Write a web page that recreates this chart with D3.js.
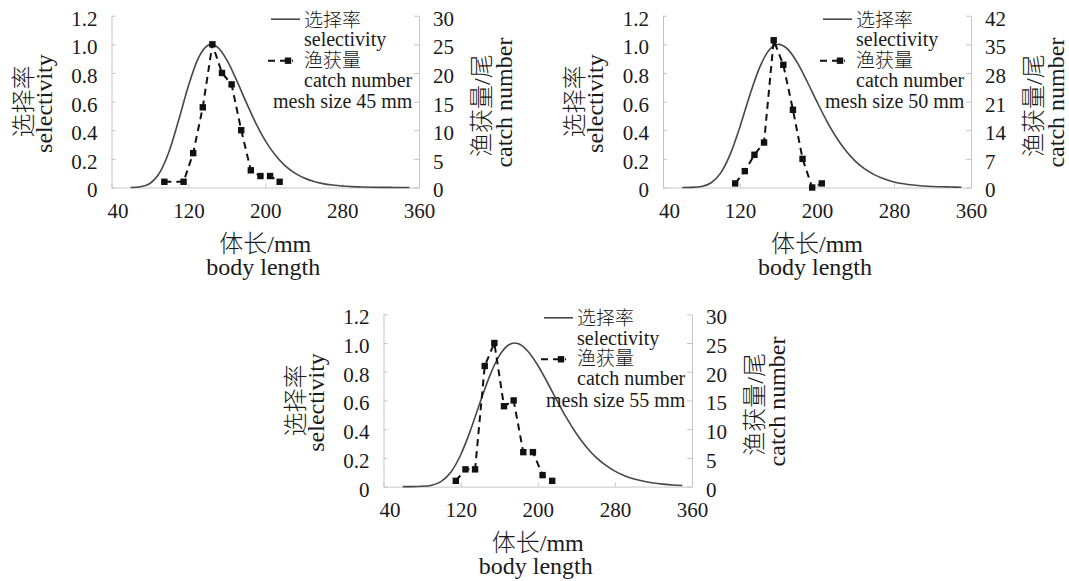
<!DOCTYPE html>
<html>
<head>
<meta charset="utf-8">
<script src="https://cdn.jsdelivr.net/npm/d3@7"></script>
<style>
  body { margin: 0; background: #fff; }
  svg text { font-family: "Liberation Serif", "Noto Sans CJK SC", serif; fill: #1a1a1a; }
</style>
</head>
<body>
<svg width="1069" height="581"></svg>
<script>
'use strict';

// selectivity curves (body length in mm -> selectivity)
var selLen45 = [60, 70, 80, 90, 100, 110, 120, 130, 140, 144, 150, 160, 170, 180, 190, 200, 210, 220, 230, 240, 250, 260, 270, 280, 290, 300, 310, 320, 330, 340, 350];
var sel45 = [0, 0.005, 0.028, 0.102, 0.253, 0.473, 0.709, 0.898, 0.992, 1.0, 0.983, 0.892, 0.752, 0.598, 0.452, 0.328, 0.230, 0.156, 0.104, 0.068, 0.043, 0.027, 0.017, 0.010, 0.006, 0.004, 0.002, 0.001, 0.001, 0, 0];

var selLen50 = [60, 70, 80, 90, 100, 110, 120, 130, 140, 150, 160, 170, 180, 190, 200, 210, 220, 230, 240, 250, 260, 270, 280, 290, 300, 310, 320, 330, 340, 350];
var sel50 = [0, 0.001, 0.007, 0.033, 0.102, 0.235, 0.425, 0.641, 0.832, 0.958, 1.0, 0.963, 0.867, 0.737, 0.598, 0.466, 0.351, 0.257, 0.183, 0.128, 0.088, 0.059, 0.039, 0.026, 0.017, 0.011, 0.007, 0.005, 0.003, 0.002];

var selLen55 = [60, 70, 80, 90, 100, 110, 120, 130, 140, 150, 160, 170, 176, 180, 190, 200, 210, 220, 230, 240, 250, 260, 270, 280, 290, 300, 310, 320, 330, 340, 350];
var sel55 = [0, 0, 0.002, 0.010, 0.037, 0.102, 0.220, 0.388, 0.582, 0.768, 0.910, 0.988, 1.0, 0.995, 0.941, 0.845, 0.725, 0.598, 0.477, 0.370, 0.280, 0.207, 0.151, 0.108, 0.076, 0.053, 0.037, 0.025, 0.017, 0.011, 0.008];

// catch numbers per length class
var catchLen45 = [95, 115, 125, 135, 145, 155, 165, 175, 185, 195, 205, 215];
var catch45 = [1, 1, 6, 14, 25, 20, 18, 10, 3, 2, 2, 1];
var catchLen50 = [115, 125, 135, 145, 155, 165, 175, 185, 195, 205];
var catch50 = [1, 4, 8, 11, 36, 30, 19, 7, 0, 1];
var catchLen55 = [115, 125, 135, 145, 155, 165, 175, 185, 195, 205, 215];
var catch55 = [1, 3, 3, 21, 25, 14, 15, 6, 6, 2, 1];

// tick labels
var xTicks = [40, 120, 200, 280, 360];
var selTicks = [0, 0.2, 0.4, 0.6, 0.8, 1.0, 1.2];
var catchTicks30 = [0, 5, 10, 15, 20, 25, 30];
var catchTicks42 = [0, 7, 14, 21, 28, 35, 42];
var meshLabels = ["mesh size 45 mm", "mesh size 50 mm", "mesh size 55 mm"];

var svg = d3.select("svg");
var frameColor = "#c6c6c6";

var panels = [
  {box: {left: 111.5, right: 419, top: 15.7, bottom: 187.5}, selLen: selLen45, sel: sel45,
   catchLen: catchLen45, catchNum: catch45, catchTicks: catchTicks30, mesh: meshLabels[0]},
  {box: {left: 663, right: 971, top: 15.7, bottom: 187.5}, selLen: selLen50, sel: sel50,
   catchLen: catchLen50, catchNum: catch50, catchTicks: catchTicks42, mesh: meshLabels[1]},
  {box: {left: 383.5, right: 692, top: 314.3, bottom: 486.6}, selLen: selLen55, sel: sel55,
   catchLen: catchLen55, catchNum: catch55, catchTicks: catchTicks30, mesh: meshLabels[2]}
];

panels.forEach(drawPanel);

function styleAxis(a, size) {
  a.attr("font-size", size);
  a.select(".domain").attr("stroke", frameColor);
  a.selectAll(".tick line").attr("stroke", frameColor);
}

// thin CJK glyphs, closer to the song-style face of the original
function cjkWeight(t) { return /[\u4e00-\u9fff]/.test(t) ? 300 : null; }

function drawPanel(p) {
  var b = p.box;
  var x = d3.scaleLinear().domain([40, 360]).range([b.left, b.right]),
      y = d3.scaleLinear().domain([0, 1.2]).range([b.bottom, b.top]),
      y2 = d3.scaleLinear().domain([0, d3.max(p.catchTicks)]).range([b.bottom, b.top]);

  var g = svg.append("g");

  var ax = g.append("g")
    .attr("transform", "translate(0," + b.bottom + ")")
    .call(d3.axisBottom(x).tickValues(xTicks).tickSize(-4).tickSizeOuter(0).tickPadding(15.5));
  styleAxis(ax, 21);
  // first label sits a little right of its tick in the original
  ax.selectAll(".tick text").filter(function(d) { return d === 40; }).attr("dx", 6);

  var ay = g.append("g")
    .attr("transform", "translate(" + b.left + ",0)")
    .call(d3.axisLeft(y).tickValues(selTicks).tickSize(-4).tickSizeOuter(0).tickPadding(14)
      .tickFormat(function(d) { return d === 0 ? "0" : d.toFixed(1); }));
  styleAxis(ay, 21);
  ay.selectAll(".tick text").attr("dy", "0.45em");

  var ay2 = g.append("g")
    .attr("transform", "translate(" + b.right + ",0)")
    .call(d3.axisRight(y2).tickValues(p.catchTicks).tickSize(-5).tickSizeOuter(0).tickPadding(14));
  styleAxis(ay2, 21);
  ay2.selectAll(".tick text").attr("dy", "0.45em");

  // selectivity curve
  var selData = p.selLen.map(function(len, i) { return {len: len, v: p.sel[i]}; });
  g.append("path")
    .datum(selData)
    .attr("fill", "none")
    .attr("stroke", "#474747")
    .attr("stroke-width", 1.6)
    .attr("d", d3.line()
      .x(function(d) { return x(d.len); })
      .y(function(d) { return y(d.v); })
      .curve(d3.curveMonotoneX));

  // catch numbers
  var catchData = p.catchLen.map(function(len, i) { return {len: len, n: p.catchNum[i]}; });
  g.append("path")
    .datum(catchData)
    .attr("fill", "none")
    .attr("stroke", "#111")
    .attr("stroke-width", 2)
    .attr("stroke-dasharray", "7,5")
    .attr("d", d3.line()
      .x(function(d) { return x(d.len); })
      .y(function(d) { return y2(d.n); }));

  g.selectAll(".pt")
    .data(catchData)
    .enter().append("rect")
      .attr("class", "pt")
      .attr("x", function(d) { return x(d.len) - 3.2; })
      .attr("y", function(d) { return y2(d.n) - 3.2; })
      .attr("width", 6.4)
      .attr("height", 6.4)
      .attr("fill", "#111");

  // legend
  var lx = b.right - 115, T = b.top;
  g.append("line")
    .attr("x1", b.right - 148).attr("x2", b.right - 119)
    .attr("y1", T + 3.5).attr("y2", T + 3.5)
    .attr("stroke", "#474747").attr("stroke-width", 1.6);
  g.append("line")
    .attr("x1", b.right - 151).attr("x2", b.right - 126)
    .attr("y1", T + 45).attr("y2", T + 45)
    .attr("stroke", "#111").attr("stroke-width", 2).attr("stroke-dasharray", "7,5");
  g.append("rect")
    .attr("x", b.right - 134.2).attr("y", T + 41.8)
    .attr("width", 6.4).attr("height", 6.4).attr("fill", "#111");

  var legendLines = [
    {t: "选择率", x: lx, y: T + 11, s: 19},
    {t: "selectivity", x: lx, y: T + 30.5, s: 20},
    {t: "渔获量", x: lx, y: T + 51, s: 19},
    {t: "catch number", x: lx, y: T + 71, s: 20},
    {t: p.mesh, x: b.right - 146, y: T + 92.6, s: 20}
  ];
  g.selectAll(".leg")
    .data(legendLines)
    .enter().append("text")
      .attr("class", "leg")
      .attr("x", function(d) { return d.x; })
      .attr("y", function(d) { return d.y; })
      .attr("font-size", function(d) { return d.s; })
      .attr("font-weight", function(d) { return cjkWeight(d.t); })
      .text(function(d) { return d.t; });

  // axis titles
  var cx = (b.left + b.right) / 2, cy = (b.top + b.bottom) / 2;
  g.append("text").attr("x", cx).attr("y", b.bottom + 64.5)
    .attr("text-anchor", "middle").attr("font-size", 24).attr("font-weight", 300).text("体长/mm");
  g.append("text").attr("x", cx - 2).attr("y", b.bottom + 87.5)
    .attr("text-anchor", "middle").attr("font-size", 24).text("body length");

  var vTitles = [
    {t: "选择率", x: b.left - 80, y: cy},
    {t: "selectivity", x: b.left - 60, y: cy + 2},
    {t: "渔获量/尾", x: b.right + 71, y: cy + 4},
    {t: "catch number", x: b.right + 93, y: cy + 1}
  ];
  g.selectAll(".vt")
    .data(vTitles)
    .enter().append("text")
      .attr("class", "vt")
      .attr("transform", function(d) { return "translate(" + d.x + "," + d.y + ") rotate(-90)"; })
      .attr("text-anchor", "middle")
      .attr("font-size", 24)
      .attr("font-weight", function(d) { return cjkWeight(d.t); })
      .text(function(d) { return d.t; });
}
</script>
</body>
</html>
